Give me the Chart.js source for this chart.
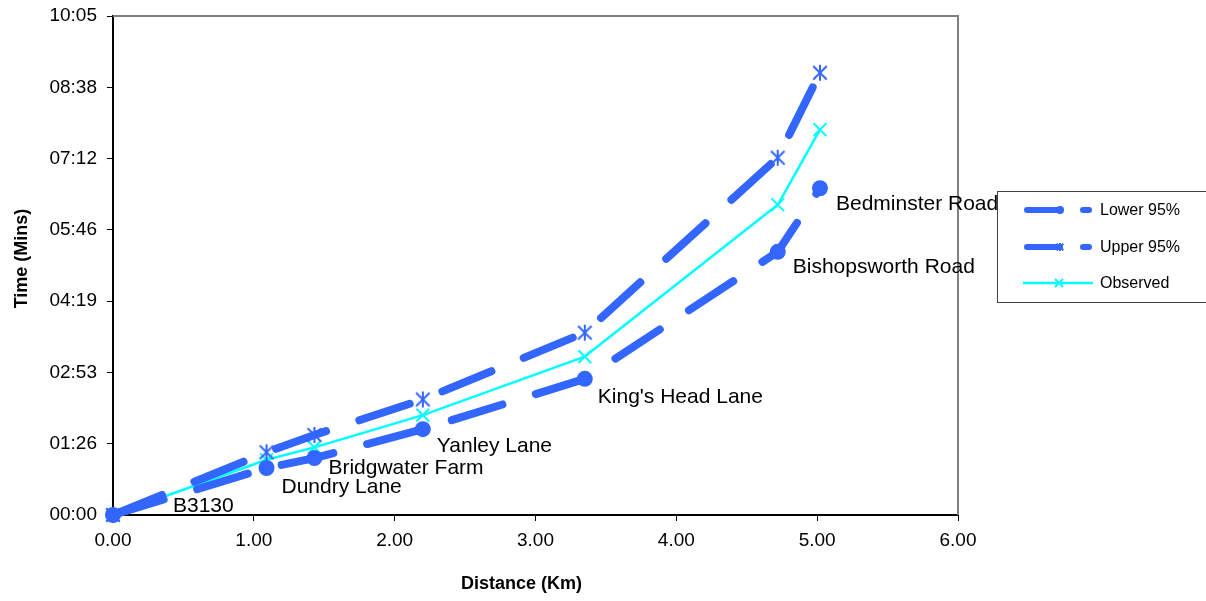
<!DOCTYPE html>
<html>
<head>
<meta charset="utf-8">
<title>Journey time vs distance</title>
<script src="https://cdn.jsdelivr.net/npm/chart.js@4/dist/chart.umd.min.js"></script>
<style>
  html, body { margin: 0; padding: 0; background: #ffffff; }
  #wrap { width: 1206px; height: 601px; position: relative; }
</style>
</head>
<body>
<div id="wrap"><canvas id="chart"></canvas></div>
<script>
// Stops along the route and cumulative distance (km)
const stopNames = ['B3130', 'Dundry Lane', 'Bridgwater Farm', 'Yanley Lane', "King's Head Lane", 'Bishopsworth Road', 'Bedminster Road'];
const distanceKm = [0, 1.09, 1.43, 2.20, 3.35, 4.72, 5.02];

// Cumulative journey time in seconds
const lower95Sec = [0, 57, 69, 104, 165, 319, 396];
const upper95Sec = [0, 76, 97, 140, 221, 433, 536];
const observedSec = [0, 67, 82, 121, 192, 376, 467];

// Axis ticks (seconds on the time axis: steps of 0.001 day)
const xTickValues = [0, 1, 2, 3, 4, 5, 6];
const yTickSeconds = [0, 86.4, 172.8, 259.2, 345.6, 432, 518.4, 604.8];

// Where each stop name sits relative to its lower-bound marker (px)
const stopLabelOffsets = [[60, -9], [15, 19], [14, 10], [14, 17], [13, 18], [15, 15], [16, 16]];

const BLUE = '#3366FF';
const CYAN = '#00FFFF';
const FONT = '"Liberation Sans", Arial, Helvetica, sans-serif';

function asteriskMarker(size, color, lw) {
  const c = document.createElement('canvas');
  c.width = size; c.height = size;
  const g = c.getContext('2d');
  const h = size / 2, r = h - 1, d = r * 0.85;
  g.strokeStyle = color; g.lineWidth = lw; g.lineCap = 'butt';
  g.beginPath();
  g.moveTo(h, h - r); g.lineTo(h, h + r);
  g.moveTo(h - d, h - d); g.lineTo(h + d, h + d);
  g.moveTo(h - d, h + d); g.lineTo(h + d, h - d);
  g.stroke();
  return c;
}

function toPoints(values) {
  return distanceKm.map((x, i) => ({ x: x, y: values[i] }));
}

function mmss(sec) {
  const s = Math.round(sec);
  const m = Math.floor(s / 60), r = s % 60;
  return String(m).padStart(2, '0') + ':' + String(r).padStart(2, '0');
}

const starBig = asteriskMarker(18, BLUE, 2);
const starSmall = asteriskMarker(10, BLUE, 2);

const datasets = [
  {
    label: 'Lower 95%',
    data: toPoints(lower95Sec),
    borderColor: BLUE, backgroundColor: BLUE,
    borderWidth: 8, borderDash: [53, 35], borderCapStyle: 'round', borderJoinStyle: 'round',
    pointStyle: 'circle', pointRadius: 8, pointBorderWidth: 0, pointBackgroundColor: BLUE,
    legendMarker: 'circle', clip: false
  },
  {
    label: 'Upper 95%',
    data: toPoints(upper95Sec),
    borderColor: BLUE, backgroundColor: BLUE,
    borderWidth: 8, borderDash: [53, 35], borderCapStyle: 'round', borderJoinStyle: 'round',
    pointStyle: starBig, pointRadius: 8, pointBorderWidth: 0,
    legendMarker: 'star', clip: false
  },
  {
    label: 'Observed',
    data: toPoints(observedSec),
    borderColor: CYAN, backgroundColor: CYAN,
    borderWidth: 2.5, borderJoinStyle: 'round',
    pointStyle: 'crossRot', pointRadius: 9, pointBorderWidth: 2, pointBorderColor: CYAN,
    legendMarker: 'cross', clip: false
  }
];

// Gray frame on the top and right of the plot area
const framePlugin = {
  id: 'plotFrame',
  beforeDatasetsDraw(chart) {
    const a = chart.chartArea, ctx = chart.ctx;
    ctx.save();
    ctx.strokeStyle = '#808080';
    ctx.lineWidth = 2;
    ctx.beginPath();
    ctx.moveTo(a.left, a.top);
    ctx.lineTo(a.right, a.top);
    ctx.lineTo(a.right, a.bottom);
    ctx.stroke();
    ctx.restore();
  }
};

// Stop names next to the lower-bound markers
const stopLabelPlugin = {
  id: 'stopLabels',
  afterDatasetsDraw(chart) {
    const meta = chart.getDatasetMeta(0);
    const ctx = chart.ctx;
    ctx.save();
    ctx.font = '21px ' + FONT;
    ctx.fillStyle = '#000';
    ctx.textAlign = 'left';
    ctx.textBaseline = 'middle';
    meta.data.forEach((pt, i) => {
      const off = stopLabelOffsets[i];
      ctx.fillText(stopNames[i], pt.x + off[0], pt.y + off[1]);
    });
    ctx.restore();
  }
};

// Axis titles
const axisTitlePlugin = {
  id: 'axisTitles',
  afterDraw(chart) {
    const ctx = chart.ctx, a = chart.chartArea;
    ctx.save();
    ctx.fillStyle = '#000';
    ctx.font = 'bold 18px ' + FONT;
    ctx.textAlign = 'center';
    ctx.textBaseline = 'middle';
    ctx.fillText('Distance (Km)', (a.left + a.right) / 2 - 14, 584);
    ctx.translate(22, (a.top + a.bottom) / 2 - 7);
    ctx.rotate(-Math.PI / 2);
    ctx.fillText('Time (Mins)', 0, 0);
    ctx.restore();
  }
};

// Boxed legend at the right, drawn from the dataset styles
const boxLegendPlugin = {
  id: 'boxLegend',
  afterDraw(chart) {
    const ctx = chart.ctx;
    const box = { x: 997, y: 191, w: 240, h: 111 };
    ctx.save();
    ctx.strokeStyle = '#404040';
    ctx.lineWidth = 1;
    ctx.strokeRect(box.x + 0.5, box.y + 0.5, box.w, box.h);
    const rows = [210, 247, 283];
    const x0 = 1027, x1 = 1089, mx = 1059;
    chart.data.datasets.forEach((ds, i) => {
      const y = rows[i];
      ctx.save();
      ctx.strokeStyle = ds.borderColor;
      ctx.lineCap = ds.borderDash ? 'round' : 'butt';
      ctx.lineWidth = ds.borderDash ? 6 : 2.5;
      ctx.setLineDash(ds.borderDash ? [33, 23] : []);
      ctx.beginPath();
      ctx.moveTo(ds.borderDash ? x0 : 1023, y);
      ctx.lineTo(ds.borderDash ? x1 : 1093, y);
      ctx.stroke();
      ctx.setLineDash([]);
      if (ds.legendMarker === 'circle') {
        ctx.fillStyle = ds.borderColor;
        ctx.beginPath(); ctx.arc(mx + 1, y, 4, 0, Math.PI * 2); ctx.fill();
      } else if (ds.legendMarker === 'star') {
        ctx.drawImage(starSmall, mx + 1 - 5, y - 5);
      } else {
        ctx.strokeStyle = ds.borderColor; ctx.lineWidth = 2;
        ctx.beginPath();
        ctx.moveTo(mx - 4, y - 4); ctx.lineTo(mx + 4, y + 4);
        ctx.moveTo(mx - 4, y + 4); ctx.lineTo(mx + 4, y - 4);
        ctx.stroke();
      }
      ctx.restore();
      ctx.fillStyle = '#000';
      ctx.font = '16px ' + FONT;
      ctx.textAlign = 'left';
      ctx.textBaseline = 'middle';
      ctx.fillText(ds.label, 1100, y + 1);
    });
    ctx.restore();
  }
};

Chart.defaults.font.family = FONT;
Chart.defaults.color = '#000';

new Chart(document.getElementById('chart'), {
  type: 'line',
  data: { datasets: datasets },
  options: {
    responsive: true,
    maintainAspectRatio: false,
    animation: false,
    layout: { padding: { top: 16, right: 248, left: 0, bottom: 0 } },
    plugins: {
      legend: { display: false },
      tooltip: { enabled: false }
    },
    elements: { line: { tension: 0 } },
    scales: {
      x: {
        type: 'linear',
        min: 0, max: 6,
        afterBuildTicks(scale) { scale.ticks = xTickValues.map(v => ({ value: v })); },
        afterFit(scale) { scale.height = 86; },
        ticks: {
          callback: v => Number(v).toFixed(2),
          font: { size: 19 }, color: '#000', padding: 8, maxRotation: 0, autoSkip: false
        },
        grid: { drawOnChartArea: false, drawTicks: true, tickLength: 6, tickColor: '#000', tickWidth: 1 },
        border: { display: true, color: '#000', width: 2 }
      },
      y: {
        type: 'linear',
        min: 0, max: 604.8,
        afterBuildTicks(scale) { scale.ticks = yTickSeconds.map(v => ({ value: v })); },
        afterFit(scale) { scale.width = 113; },
        ticks: {
          callback: v => mmss(v),
          font: { size: 19, lineHeight: 0.6 }, color: '#000', padding: 10, autoSkip: false
        },
        grid: { drawOnChartArea: false, drawTicks: true, tickLength: 6, tickColor: '#000', tickWidth: 1 },
        border: { display: true, color: '#000', width: 2 }
      }
    }
  },
  plugins: [framePlugin, stopLabelPlugin, axisTitlePlugin, boxLegendPlugin]
});
</script>
</body>
</html>
